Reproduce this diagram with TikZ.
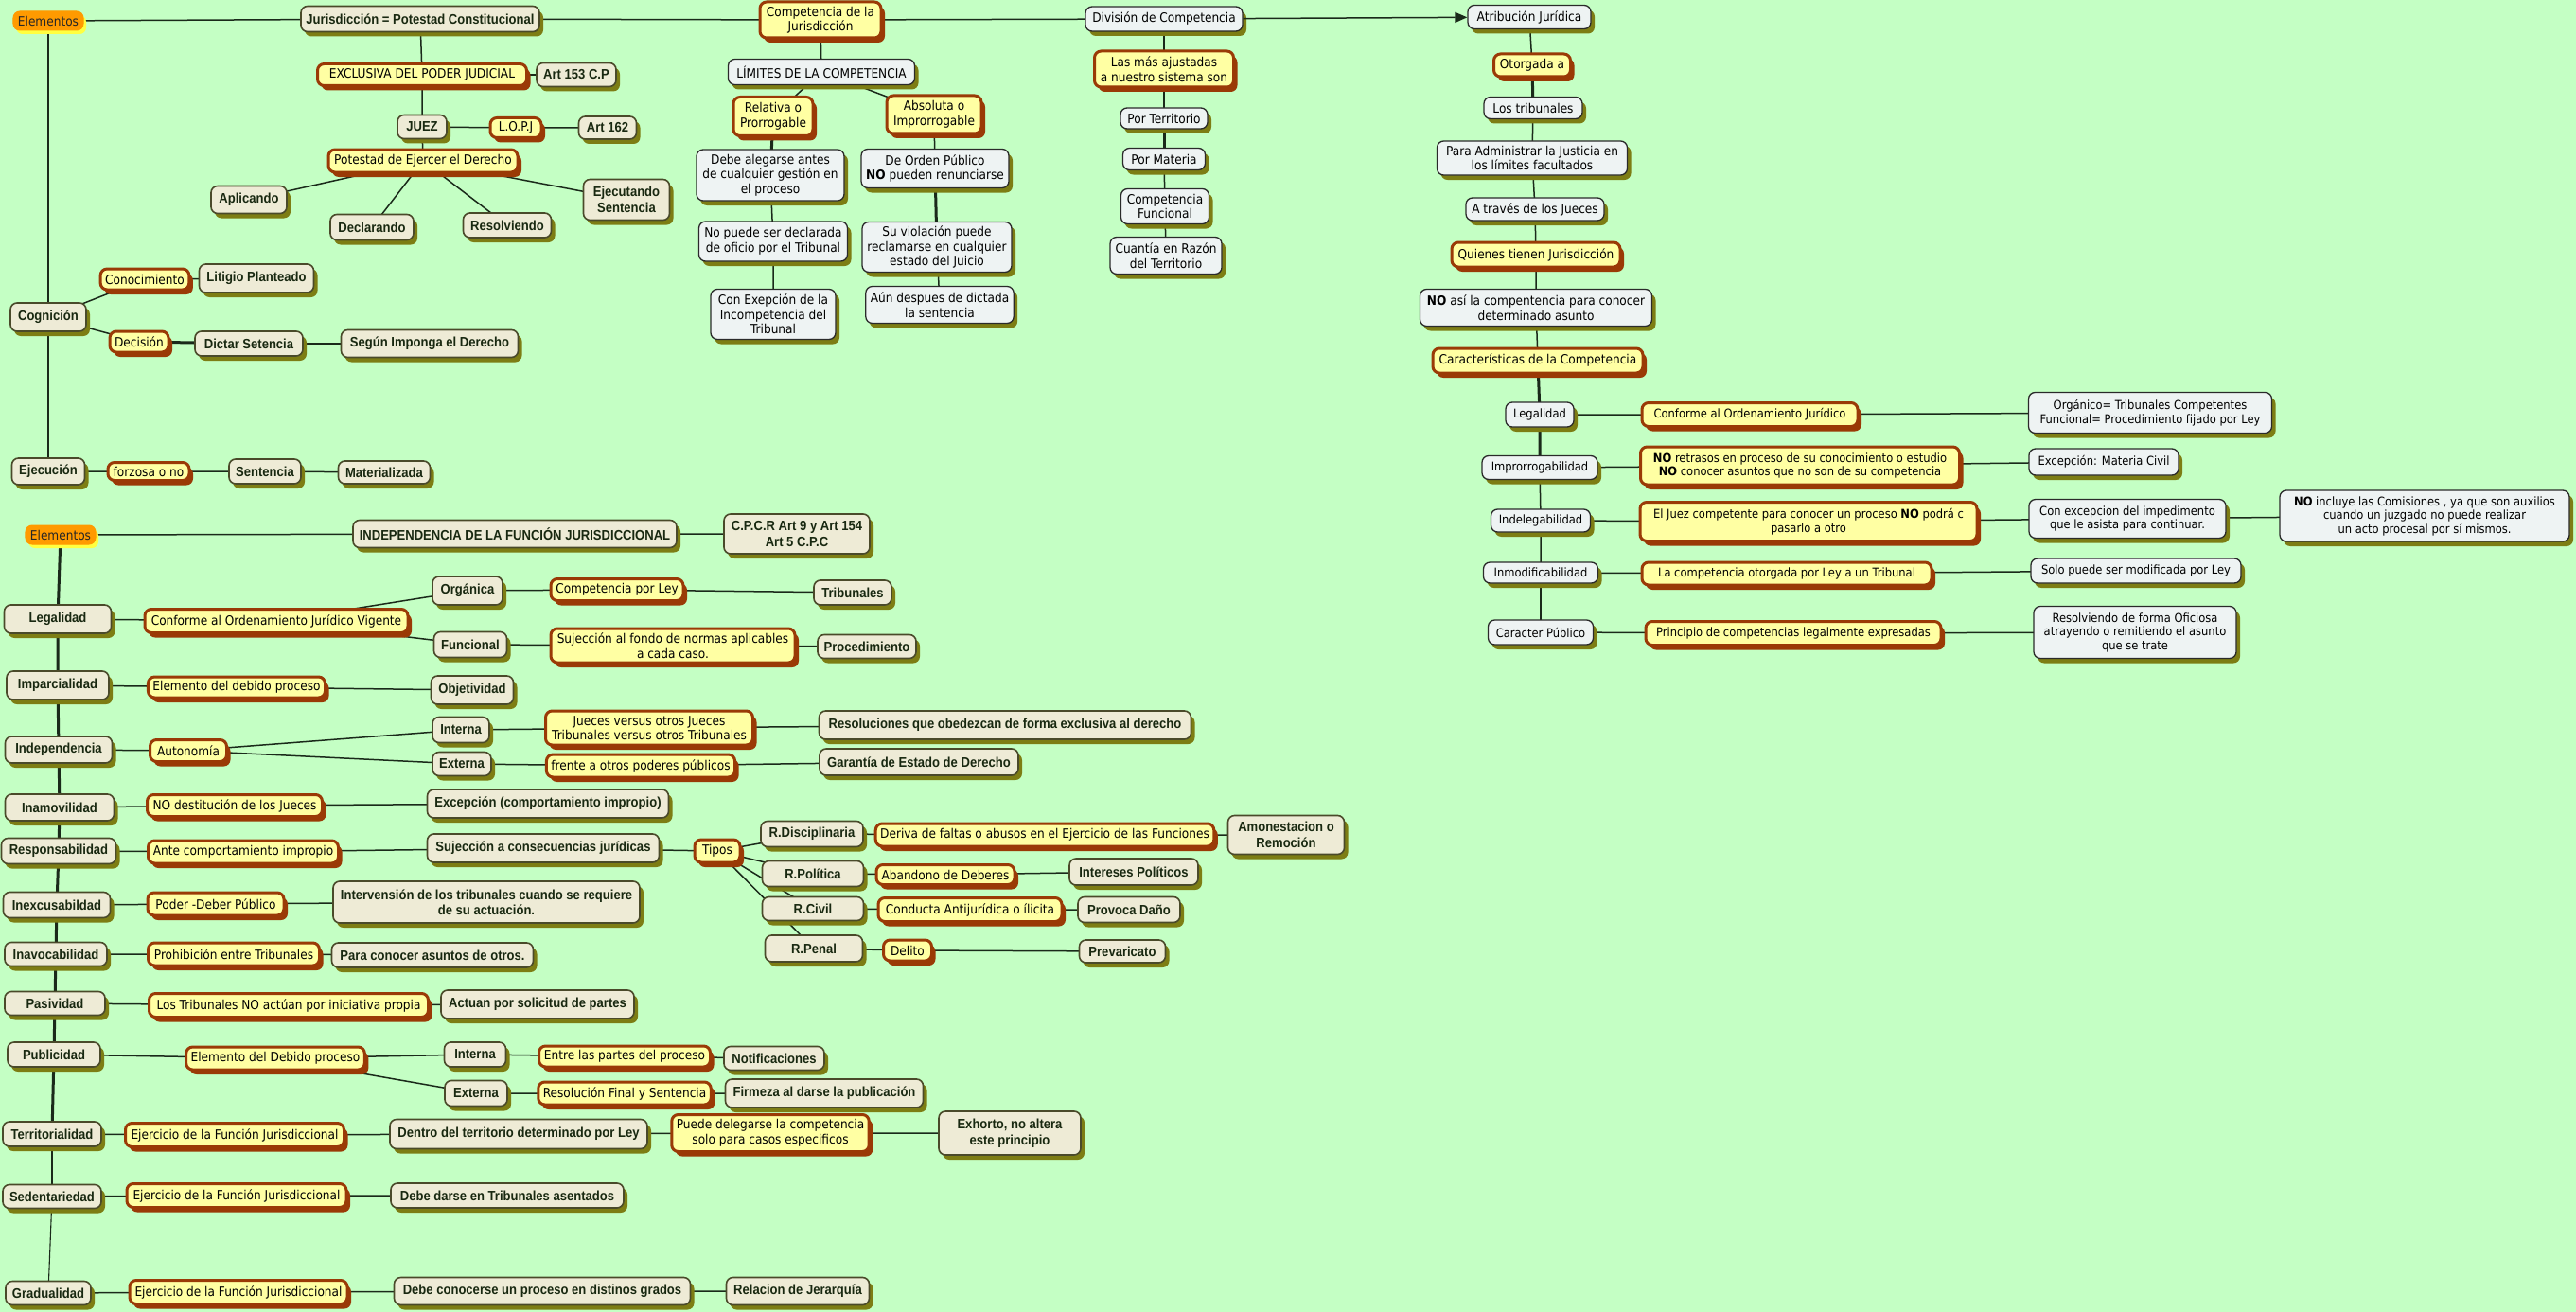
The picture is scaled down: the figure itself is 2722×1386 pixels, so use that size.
\documentclass[tikz,border=0pt]{standalone}
\usepackage{fontspec}
\usetikzlibrary{shadows,arrows.meta}
\newfontfamily\regf{DejaVu Sans}[FakeStretch=0.9]
\newfontfamily\boldf{Liberation Sans}[FakeStretch=0.9]
\newcommand\fr{\regf\fontsize{13.5}{15.5}\selectfont}
\newcommand\frs{\regf\fontsize{12.8}{14.5}\selectfont}
\newcommand\fb{\boldf\bfseries\fontsize{14.5}{16.5}\selectfont}
\definecolor{bgcol}{HTML}{C4FFC4}
\definecolor{bxfill}{HTML}{EEEBD6}
\definecolor{bxline}{HTML}{4A4A2A}
\definecolor{bxtext}{HTML}{182810}
\definecolor{olv}{HTML}{7D7D14}
\definecolor{ylfill}{HTML}{FFFFA3}
\definecolor{ylline}{HTML}{9A3A06}
\definecolor{blfill}{HTML}{EEF3F3}
\definecolor{blline}{HTML}{2A2A2A}
\definecolor{orcol}{HTML}{FF9A00}
\definecolor{glow}{HTML}{FFFF40}
\definecolor{lncol}{HTML}{1A2A1A}
\pgfdeclarelayer{back}\pgfdeclarelayer{bg}\pgfsetlayers{back,bg,main}
\tikzset{
 box/.style={rounded corners=7pt, align=center, inner xsep=5pt, inner ysep=2pt},
 wh/.style 2 args={minimum width={(#1-2)*1pt}, minimum height={(#2-2)*1pt}},
 bx/.style={box, fill=bxfill, draw=bxline, line width=1.6pt, text=bxtext, font=\fb, general shadow={fill=olv, shadow xshift=4pt, shadow yshift=-5pt}},
 yl/.style={box, fill=ylfill, draw=ylline, line width=3pt, text=black, font=\fr, general shadow={fill=ylline, shadow xshift=4pt, shadow yshift=-5pt}},
 bl/.style={box, fill=blfill, draw=blline, line width=1.3pt, text=black, font=\fr, general shadow={fill=olv, shadow xshift=4pt, shadow yshift=-5pt}},
 orng/.style={box, fill=orcol, draw=orcol, line width=1pt, text=black!85, font=\fr, general shadow={fill=glow, shadow xshift=3pt, shadow yshift=-4pt}},
 conn/.style={draw=lncol, line width=1.5pt},
 thk/.style={draw=lncol, line width=3pt},
 thn/.style={draw=lncol, line width=1.1pt},
}
\begin{document}
\begin{tikzpicture}[x=1pt,y=-1pt]
\useasboundingbox (0,0) rectangle (2722,1386);
\begin{pgfonlayer}{back}
\fill[bgcol] (0,0) rectangle (2722,1386);
\end{pgfonlayer}
% ---------- top left ----------
\node[orng,wh={76}{22}] (el1) at (51,22) {Elementos};
\node[bx,wh={254}{29}] (jur) at (444,20) {Jurisdicción = Potestad Constitucional};
\node[yl,wh={223}{25}] (excl) at (446,79) {EXCLUSIVA DEL PODER JUDICIAL};
\node[bx,wh={86}{27}] (art153) at (609,79) {Art 153 C.P};
\node[bx,wh={54}{27}] (juez) at (446,134) {JUEZ};
\node[yl,wh={56}{23}] (lopj) at (545,135) {L.O.P.J};
\node[bx,wh={63}{26}] (art162) at (642,135) {Art 162};
\node[yl,wh={202}{26}] (pot) at (447,170) {Potestad de Ejercer el Derecho};
\node[bx,wh={82}{31}] (apl) at (263,211) {Aplicando};
\node[bx,wh={90}{29}] (dec) at (393,240) {Declarando};
\node[bx,wh={95}{28}] (res) at (536,238) {Resolviendo};
\node[bx,wh={93}{45}] (ejs) at (662,211) {Ejecutando\\Sentencia};
\node[bx,wh={82}{32}] (cog) at (51,335) {Cognición};
\node[yl,wh={94}{24}] (con) at (153,295) {Conocimiento};
\node[bx,wh={123}{32}] (lit) at (271,294) {Litigio Planteado};
\node[yl,wh={64}{24}] (deci) at (147,361) {Decisión};
\node[bx,wh={116}{28}] (dict) at (263,363) {Dictar Setencia};
\node[bx,wh={189}{31}] (seg) at (454,363) {Según Imponga el Derecho};
\node[bx,wh={79}{30}] (eje) at (51,498) {Ejecución};
\node[yl,wh={88}{21}] (forz) at (157,498) {forzosa o no};
\node[bx,wh={78}{28}] (sent) at (280,498) {Sentencia};
\node[bx,wh={99}{26}] (mat) at (406,499) {Materializada};
% ---------- top middle ----------
\node[yl,wh={130}{40}] (comp) at (867,21) {Competencia de la\\Jurisdicción};
\node[bl,wh={199}{29}] (lim) at (868,76) {LÍMITES DE LA COMPETENCIA};
\node[yl,wh={86}{43}] (rel) at (817,123) {Relativa o\\Prorrogable};
\node[yl,wh={102}{42}] (abs) at (987,121) {Absoluta o\\Improrrogable};
\node[bl,wh={158}{56}] (deb) at (814,185) {Debe alegarse antes\\de cualquier gestión en\\el proceso};
\node[bl,wh={159}{44}] (nop) at (817,255) {No puede ser declarada\\de oficio por el Tribunal};
\node[bl,wh={134}{55}] (conex) at (817,332) {Con Exepción de la\\Incompetencia del\\Tribunal};
\node[bl,wh={158}{43}] (ord) at (988,178) {De Orden Público\\\textbf{NO} pueden renunciarse};
\node[bl,wh={160}{55}] (suv) at (990,261) {Su violación puede\\reclamarse en cualquier\\estado del Juicio};
\node[bl,wh={158}{41}] (aun) at (993,322) {Aún despues de dictada\\la sentencia};
\node[bl,wh={168}{28}] (div) at (1230,20) {División de Competencia};
\node[yl,wh={149}{40}] (mas) at (1230,73) {Las más ajustadas\\a nuestro sistema son};
\node[bl,wh={94}{24}] (port) at (1230,125) {Por Territorio};
\node[bl,wh={89}{25}] (porm) at (1230,168) {Por Materia};
\node[bl,wh={95}{39}] (cfun) at (1231,218) {Competencia\\Funcional};
\node[bl,wh={120}{41}] (cuan) at (1232,270) {Cuantía en Razón\\del Territorio};
% ---------- right ----------
\node[bl,wh={132}{27}] (atr) at (1616,18) {Atribución Jurídica};
\node[yl,wh={83}{26}] (otor) at (1619,69) {Otorgada a};
\node[bl,wh={106}{25}] (trib) at (1620,114) {Los tribunales};
\node[bl,wh={203}{38}] (para) at (1619,167) {Para Administrar la Justicia en\\los límites facultados};
\node[bl,wh={148}{26}] (atra) at (1622,221) {A través de los Jueces};
\node[yl,wh={180}{28}] (quien) at (1623,269) {Quienes tienen Jurisdicción};
\node[bl,wh={247}{41}] (noasi) at (1623,325) {\textbf{NO} así la compentencia para conocer\\determinado asunto};
\node[yl,wh={224}{28}] (carac) at (1625,381) {Características de la Competencia};
\node[bl,wh={74}{28},font=\frs] (rleg) at (1627,438) {Legalidad};
\node[yl,wh={230}{27},font=\frs] (rconf) at (1849,438) {Conforme al Ordenamiento Jurídico};
\node[bl,wh={259}{45},font=\frs] (rorg) at (2272,436) {Orgánico= Tribunales Competentes\\Funcional= Procedimiento fijado por Ley};
\node[bl,wh={124}{27},font=\frs] (rimp) at (1627,494) {Improrrogabilidad};
\node[yl,wh={339}{42},font=\frs] (rnor) at (1902,492) {\textbf{NO} retrasos en proceso de su conocimiento o estudio\\\textbf{NO} conocer asuntos que no son de su competencia};
\node[bl,wh={160}{30},font=\frs] (rexc) at (2223,488) {Excepción: Materia Civil};
\node[bl,wh={107}{26},font=\frs] (rind) at (1628,550) {Indelegabilidad};
\node[yl,wh={358}{43},font=\frs] (rjuez) at (1911,551) {El Juez competente para conocer un proceso \textbf{NO} podrá c\\pasarlo a otro};
\node[bl,wh={210}{43},font=\frs] (rcon) at (2248,548) {Con excepcion del impedimento\\que le asista para continuar.};
\node[bl,wh={308}{56},font=\frs] (rnoinc) at (2562,545) {\textbf{NO} incluye las Comisiones , ya que son auxilios\\cuando un juzgado no puede realizar\\un acto procesal por sí mismos.};
\node[bl,wh={123}{24},font=\frs] (rinm) at (1628,605) {Inmodificabilidad};
\node[yl,wh={308}{26},font=\frs] (rlac) at (1888,606) {La competencia otorgada por Ley a un Tribunal};
\node[bl,wh={224}{28},font=\frs] (rsolo) at (2257,603) {Solo puede ser modificada por Ley};
\node[bl,wh={113}{28},font=\frs] (rcar) at (1628,668) {Caracter Público};
\node[yl,wh={314}{27},font=\frs] (rprin) at (1895,669) {Principio de competencias legalmente expresadas};
\node[bl,wh={216}{57},font=\frs] (rresol) at (2256,668) {Resolviendo de forma Oficiosa\\atrayendo o remitiendo el asunto\\que se trate};
% ---------- lower left ----------
\node[orng,wh={76}{22}] (el2) at (64,565) {Elementos};
\node[bx,wh={344}{31}] (indf) at (544,564) {INDEPENDENCIA DE LA FUNCIÓN JURISDICCIONAL};
\node[bx,wh={156}{44}] (cpcr) at (842,564) {C.P.C.R Art 9 y Art 154\\Art 5 C.P.C};
\node[bx,wh={115}{32}] (leg) at (61,654) {Legalidad};
\node[yl,wh={280}{27}] (conf) at (292,656) {Conforme al Ordenamiento Jurídico Vigente};
\node[bx,wh={76}{32}] (org) at (494,624) {Orgánica};
\node[yl,wh={142}{25}] (cpl) at (652,623) {Competencia por Ley};
\node[bx,wh={84}{28}] (tribs) at (901,626) {Tribunales};
\node[bx,wh={79}{29}] (fun) at (497,681) {Funcional};
\node[yl,wh={260}{38}] (suj) at (711,682) {Sujección al fondo de normas aplicables\\a cada caso.};
\node[bx,wh={106}{27}] (proc) at (916,683) {Procedimiento};
\node[bx,wh={110}{32}] (imp) at (61,724) {Imparcialidad};
\node[yl,wh={189}{24}] (elem) at (250,726) {Elemento del debido proceso};
\node[bx,wh={89}{32}] (obj) at (499,729) {Objetividad};
\node[bx,wh={115}{30}] (ind) at (62,792) {Independencia};
\node[yl,wh={83}{25}] (aut) at (199,793) {Autonomía};
\node[bx,wh={62}{29}] (int) at (487,771) {Interna};
\node[bx,wh={64}{27}] (ext) at (488,807) {Externa};
\node[yl,wh={221}{38}] (jue) at (686,769) {Jueces versus otros Jueces\\Tribunales versus otros Tribunales};
\node[yl,wh={201}{26}] (fren) at (677,809) {frente a otros poderes públicos};
\node[bx,wh={395}{32}] (resol) at (1062,766) {Resoluciones que obedezcan de forma exclusiva al derecho};
\node[bx,wh={212}{30}] (gar) at (971,805) {Garantía de Estado de Derecho};
\node[bx,wh={117}{30}] (ina) at (63,853) {Inamovilidad};
\node[yl,wh={187}{25}] (nodes) at (248,851) {NO destitución de los Jueces};
\node[bx,wh={257}{32}] (exc) at (579,849) {Excepción (comportamiento impropio)};
\node[bx,wh={123}{29}] (resp) at (62,899) {Responsabilidad};
\node[yl,wh={203}{26}] (ante) at (257,900) {Ante comportamiento impropio};
\node[bx,wh={247}{32}] (sujc) at (574,896) {Sujección a consecuencias jurídicas};
\node[yl,wh={50}{26}] (tipos) at (758,899) {Tipos};
\node[bx,wh={110}{29}] (rdis) at (858,881) {R.Disciplinaria};
\node[yl,wh={359}{26}] (deriva) at (1104,882) {Deriva de faltas o abusos en el Ejercicio de las Funciones};
\node[bx,wh={125}{43}] (amon) at (1359,882) {Amonestacion o\\Remoción};
\node[bx,wh={109}{29}] (rpol) at (859,923) {R.Política};
\node[yl,wh={148}{23}] (aband) at (999,924) {Abandono de Deberes};
\node[bx,wh={138}{30}] (inter) at (1198,921) {Intereses Políticos};
\node[bx,wh={109}{27}] (rciv) at (859,960) {R.Civil};
\node[yl,wh={196}{27}] (cond) at (1025,961) {Conducta Antijurídica o ílicita};
\node[bx,wh={110}{29}] (prov) at (1193,961) {Provoca Daño};
\node[bx,wh={105}{30}] (rpen) at (860,1002) {R.Penal};
\node[yl,wh={53}{24}] (delito) at (959,1004) {Delito};
\node[bx,wh={93}{26}] (prev) at (1186,1005) {Prevaricato};
\node[bx,wh={115}{29}] (inex) at (60,956) {Inexcusabildad};
\node[yl,wh={146}{26}] (poder) at (228,955) {Poder -Deber Público};
\node[bx,wh={326}{46}] (interv) at (514,953) {Intervensión de los tribunales cuando se requiere\\de su actuación.};
\node[bx,wh={110}{27}] (inav) at (59,1008) {Inavocabilidad};
\node[yl,wh={183}{26}] (prohib) at (247,1008) {Prohibición entre Tribunales};
\node[bx,wh={215}{28}] (paracon) at (457,1009) {Para conocer asuntos de otros.};
\node[bx,wh={108}{27}] (pas) at (58,1060) {Pasividad};
\node[yl,wh={297}{27}] (lostrib) at (305,1062) {Los Tribunales NO actúan por iniciativa propia};
\node[bx,wh={206}{32}] (actuan) at (568,1061) {Actuan por solicitud de partes};
\node[bx,wh={100}{28}] (pub) at (57,1114) {Publicidad};
\node[yl,wh={190}{26}] (elemd) at (291,1118) {Elemento del Debido proceso};
\node[bx,wh={67}{28}] (int2) at (502,1114) {Interna};
\node[yl,wh={183}{24}] (entre) at (660,1116) {Entre las partes del proceso};
\node[bx,wh={108}{27}] (notif) at (818,1118) {Notificaciones};
\node[bx,wh={68}{29}] (ext2) at (503,1155) {Externa};
\node[yl,wh={184}{26}] (resfin) at (660,1155) {Resolución Final y Sentencia};
\node[bx,wh={211}{32}] (firm) at (871,1155) {Firmeza al darse la publicación};
\node[bx,wh={106}{28}] (terr) at (55,1198) {Territorialidad};
\node[yl,wh={233}{27}] (ej1) at (248,1199) {Ejercicio de la Función Jurisdiccional};
\node[bx,wh={274}{33}] (dentro) at (548,1198) {Dentro del territorio determinado por Ley};
\node[yl,wh={208}{41}] (puede) at (814,1197) {Puede delegarse la competencia\\solo para casos especificos};
\node[bx,wh={152}{48}] (exh) at (1067,1197) {Exhorto, no altera\\este principio};
\node[bx,wh={106}{27}] (sed) at (55,1264) {Sedentariedad};
\node[yl,wh={234}{27}] (ej2) at (250,1263) {Ejercicio de la Función Jurisdiccional};
\node[bx,wh={248}{28}] (debed) at (536,1263) {Debe darse en Tribunales asentados};
\node[bx,wh={92}{27}] (grad) at (51,1366) {Gradualidad};
\node[yl,wh={232}{27}] (ej3) at (252,1365) {Ejercicio de la Función Jurisdiccional};
\node[bx,wh={315}{31}] (debec) at (573,1364) {Debe conocerse un proceso en distinos grados};
\node[bx,wh={153}{31}] (relac) at (843,1364) {Relacion de Jerarquía};
% ---------- connectors ----------
\draw[conn,-{Triangle[length=13pt,width=11pt]}] (div) -- (atr);
\begin{pgfonlayer}{bg}
\draw[conn] (el1.center) -- (jur.center) -- (comp.center) -- (div.center);
\draw[thn] (el1.center) -- (cog.center) -- (eje.center);
\draw[conn] (jur.center) -- (excl.center) -- (juez.center) -- (pot.center);
\draw[conn] (excl.center) -- (art153.center);
\draw[conn] (juez.center) -- (lopj.center) -- (art162.center);
\draw[conn] (pot.center) -- (apl.center);
\draw[conn] (pot.center) -- (dec.center);
\draw[conn] (pot.center) -- (res.center);
\draw[conn] (pot.center) -- (ejs.center);
\draw[conn] (cog.center) -- (con.center) -- (lit.center);
\draw[conn] (cog.center) -- (deci.center);
\draw[thk] (deci.center) -- (dict.center);
\draw[thn] (dict.center) -- (seg.center);
\draw[conn] (eje.center) -- (forz.center) -- (sent.center) -- (mat.center);
\draw[conn] (comp.center) -- (lim.center);
\draw[conn] (lim.center) -- (rel.center);
\draw[conn] (lim.center) -- (abs.center);
\draw[thk] (rel.center) -- (deb.center);
\draw[conn] (deb.center) -- (nop.center) -- (conex.center);
\draw[conn] (abs.center) -- (ord.center);
\draw[thk] (ord.center) -- (suv.center);
\draw[conn] (suv.center) -- (aun.center);
\draw[conn] (div.center) -- (mas.center) -- (port.center);
\draw[thk] (port.center) -- (porm.center);
\draw[conn] (porm.center) -- (cfun.center) -- (cuan.center);
\draw[conn] (atr.center) -- (otor.center);
\draw[thk] (otor.center) -- (trib.center);
\draw[conn] (trib.center) -- (para.center) -- (atra.center) -- (quien.center) -- (noasi.center) -- (carac.center);
\draw[thk] (carac.center) -- (rleg.center) -- (rimp.center);
\draw[conn] (rimp.center) -- (rind.center) -- (rinm.center);
\draw[thn] (rinm.center) -- (rcar.center);
\draw[conn] (rleg.center) -- (rconf.center) -- (rorg.center);
\draw[conn] (rimp.center) -- (rnor.center) -- (rexc.center);
\draw[conn] (rind.center) -- (rjuez.center) -- (rcon.center) -- (rnoinc.center);
\draw[conn] (rinm.center) -- (rlac.center) -- (rsolo.center);
\draw[conn] (rcar.center) -- (rprin.center) -- (rresol.center);
% lower
\draw[conn] (el2.center) -- (indf.center) -- (cpcr.center);
\draw[thk] (el2.center) -- (leg.center) -- (imp.center) -- (ind.center) -- (ina.center) -- (resp.center) -- (inex.center) -- (inav.center) -- (pas.center) -- (pub.center) -- (terr.center);
\draw[conn] (terr.center) -- (sed.center);
\draw[thn] (sed.center) -- (grad.center);
\draw[conn] (leg.center) -- (conf.center);
\draw[conn] (conf.center) -- (org.center) -- (cpl.center) -- (tribs.center);
\draw[conn] (conf.center) -- (fun.center) -- (suj.center) -- (proc.center);
\draw[conn] (imp.center) -- (elem.center) -- (obj.center);
\draw[conn] (ind.center) -- (aut.center);
\draw[conn] (aut.center) -- (int.center) -- (jue.center) -- (resol.center);
\draw[conn] (aut.center) -- (ext.center) -- (fren.center) -- (gar.center);
\draw[conn] (ina.center) -- (nodes.center) -- (exc.center);
\draw[conn] (resp.center) -- (ante.center) -- (sujc.center) -- (tipos.center);
\draw[conn] (tipos.center) -- (rdis.center) -- (deriva.center) -- (amon.center);
\draw[conn] (tipos.center) -- (rpol.center) -- (aband.center) -- (inter.center);
\draw[conn] (tipos.center) -- (rciv.center) -- (cond.center) -- (prov.center);
\draw[conn] (tipos.center) -- (rpen.center) -- (delito.center) -- (prev.center);
\draw[conn] (inex.center) -- (poder.center) -- (interv.center);
\draw[conn] (inav.center) -- (prohib.center) -- (paracon.center);
\draw[conn] (pas.center) -- (lostrib.center) -- (actuan.center);
\draw[conn] (pub.center) -- (elemd.center);
\draw[conn] (elemd.center) -- (int2.center) -- (entre.center) -- (notif.center);
\draw[conn] (elemd.center) -- (ext2.center) -- (resfin.center) -- (firm.center);
\draw[conn] (terr.center) -- (ej1.center) -- (dentro.center) -- (puede.center) -- (exh.center);
\draw[conn] (sed.center) -- (ej2.center) -- (debed.center);
\draw[conn] (grad.center) -- (ej3.center) -- (debec.center) -- (relac.center);
\end{pgfonlayer}
\end{tikzpicture}
\end{document}
